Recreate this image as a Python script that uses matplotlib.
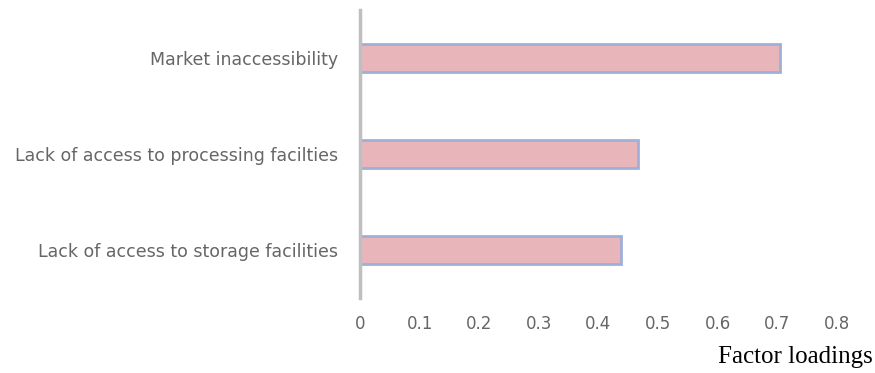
import matplotlib.pyplot as plt

# factor loadings for the marketing constraints
factors = ['Lack of access to storage facilities',
           'Lack of access to processing facilties',
           'Market inaccessibility']
loadings = [0.438, 0.466, 0.705]
xticks = [0, 0.1, 0.2, 0.3, 0.4, 0.5, 0.6, 0.7, 0.8]

fig = plt.figure(figsize=(8.75, 3.73), dpi=100)
ax = fig.add_axes([360 / 875, 75 / 373, 477 / 875, 288 / 373])

ax.barh(range(len(factors)), loadings, height=0.29,
        color='#e8b6ba', edgecolor='#9fb0d8', linewidth=2)

ax.set_xlim(0, 0.8)
ax.set_ylim(-0.5, 2.5)
ax.set_xticks(xticks)
ax.set_xticklabels([f'{t:g}' for t in xticks])
ax.set_yticks(range(len(factors)))
ax.set_yticklabels(factors)

for s in ['top', 'right', 'bottom']:
    ax.spines[s].set_visible(False)
ax.spines['left'].set_color('#bfbfbf')
ax.spines['left'].set_linewidth(2.5)

ax.tick_params(axis='both', length=0, colors='#666666', labelsize=12)
ax.tick_params(axis='y', pad=16, labelsize=12.5)
ax.tick_params(axis='x', pad=12)
for lab in ax.get_xticklabels() + ax.get_yticklabels():
    lab.set_family('DejaVu Sans')

fig.text(0.997, 0.027, 'Factor loadings', ha='right', va='baseline',
         family='Liberation Serif', fontsize=18, color='black')

fig.savefig('out.png', dpi=100)
